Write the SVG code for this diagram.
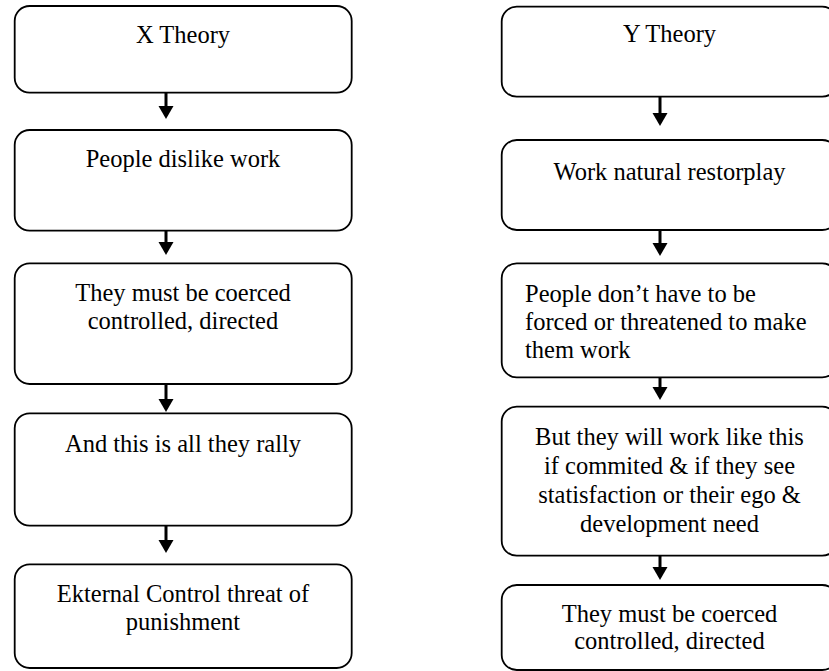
<svg xmlns="http://www.w3.org/2000/svg" width="829" height="671" viewBox="0 0 829 671">
<style>
.box{fill:#fff;stroke:#000;stroke-width:1.8}
.t{font-size:24.5px;fill:#000}
.c{text-anchor:middle}
.shaft{stroke:#000;stroke-width:3;fill:none}
.head{fill:#000}
</style>
<rect width="829" height="671" fill="#fff"/>
<g font-family="Liberation Serif, DejaVu Serif, serif">
<g id="x-theory"><rect class="box" x="14.7" y="6" width="337" height="86.7" rx="15"/><text class="t c" x="183" y="43">X Theory</text></g>
<g id="x-dislike"><rect class="box" x="14.7" y="130" width="337" height="100.7" rx="15"/><text class="t c" x="183" y="166.7">People dislike work</text></g>
<g id="x-coerced"><rect class="box" x="14.7" y="263.3" width="337" height="120.7" rx="15"/><text class="t c" x="183" y="300.7">They must be coerced</text><text class="t c" x="183" y="329">controlled, directed</text></g>
<g id="x-rally"><rect class="box" x="14.7" y="413.3" width="337" height="112.4" rx="15"/><text class="t c" x="183" y="451.7">And this is all they rally</text></g>
<g id="x-external"><rect class="box" x="14.7" y="564.3" width="337" height="103.7" rx="15"/><text class="t c" x="183" y="601.7">Ekternal Control threat of</text><text class="t c" x="183" y="630">punishment</text></g>
<g id="y-theory"><rect class="box" x="501.7" y="6.7" width="335.5" height="90" rx="15"/><text class="t c" x="669.5" y="42.3">Y Theory</text></g>
<g id="y-natural"><rect class="box" x="501.7" y="140" width="335.5" height="90" rx="15"/><text class="t c" x="669.5" y="180">Work natural restorplay</text></g>
<g id="y-forced"><rect class="box" x="501.7" y="263.3" width="335.5" height="114" rx="15"/><text class="t" x="525" y="302">People don’t have to be</text><text class="t" x="525" y="330">forced or threatened to make</text><text class="t" x="525" y="358">them work</text></g>
<g id="y-commit"><rect class="box" x="501.7" y="406.7" width="335.5" height="149" rx="15"/><text class="t c" x="669.5" y="445">But they will work like this</text><text class="t c" x="669.5" y="474">if commited &amp; if they see</text><text class="t c" x="669.5" y="503">statisfaction or their ego &amp;</text><text class="t c" x="669.5" y="531.7">development need</text></g>
<g id="y-coerced"><rect class="box" x="501.7" y="585" width="335.5" height="85" rx="15"/><text class="t c" x="669.5" y="621.7">They must be coerced</text><text class="t c" x="669.5" y="649.3">controlled, directed</text></g>
</g>
<g id="connectors">
<line class="shaft" x1="166" y1="93" x2="166" y2="107"/><polygon class="head" points="158.5,106 173.5,106 166,119"/>
<line class="shaft" x1="166" y1="231" x2="166" y2="243"/><polygon class="head" points="158.5,242 173.5,242 166,255"/>
<line class="shaft" x1="166" y1="384" x2="166" y2="400"/><polygon class="head" points="158.5,399 173.5,399 166,412"/>
<line class="shaft" x1="166" y1="526" x2="166" y2="541"/><polygon class="head" points="158.5,540 173.5,540 166,553"/>
<line class="shaft" x1="660" y1="97" x2="660" y2="114"/><polygon class="head" points="652.5,113 667.5,113 660,126"/>
<line class="shaft" x1="660" y1="230" x2="660" y2="244"/><polygon class="head" points="652.5,243 667.5,243 660,256"/>
<line class="shaft" x1="660" y1="377" x2="660" y2="388"/><polygon class="head" points="652.5,387 667.5,387 660,400"/>
<line class="shaft" x1="660" y1="556" x2="660" y2="568"/><polygon class="head" points="652.5,567 667.5,567 660,580"/>
</g>
</svg>
